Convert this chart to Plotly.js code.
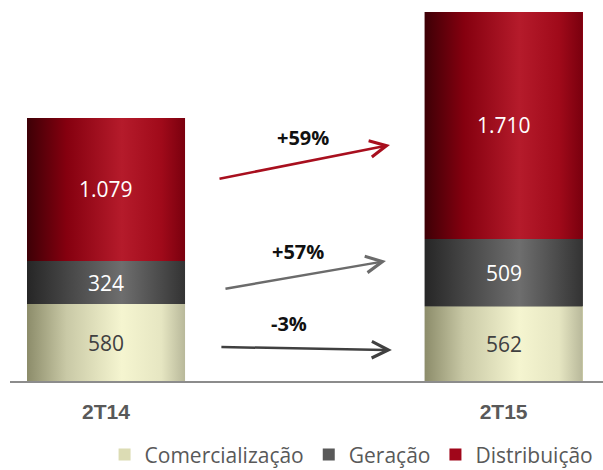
<!DOCTYPE html>
<html>
<head>
<meta charset="utf-8">
<script src="https://cdn.plot.ly/plotly-3.0.1.min.js"></script>
<style>html,body{margin:0;padding:0;background:#fff;}#chart{width:603px;height:470px;}</style>
</head>
<body>
<div id="chart"></div>
<script>
// ---- data ----
var categories = ['2T14', '2T15'];
var seriesNames = ['Comercialização', 'Geração', 'Distribuição'];
var comercializacao = [580, 562];
var geracao = [324, 509];
var distribuicao = [1079, 1710];
var valueLabels = [['580', '562'], ['324', '509'], ['1.079', '1.710']];
var changeLabels = ['+59%', '+57%', '-3%'];

// ---- styles ----
var legendColors = ['#DCDCB4', '#595959', '#A0061A'];
var gradients = [
  [[0, '#8c8c6a'], [0.25, '#c9c9a6'], [0.6, '#f5f5d0'], [0.85, '#e6e6c2'], [1, '#b8b89a']],
  [[0, '#262626'], [0.25, '#454545'], [0.6, '#6e6e6e'], [0.85, '#4a4a4a'], [1, '#333333']],
  [[0, '#3d0006'], [0.25, '#85000f'], [0.6, '#b51b2b'], [0.85, '#a00a1a'], [1, '#7a000e']]
];
var labelColors = ['#404040', '#ffffff', '#ffffff'];
var barWidth = 0.3975;
var font = '"Open Sans", sans-serif';

var series = [comercializacao, geracao, distribuicao];
var traces = [];
series.forEach(function (vals, s) {
  traces.push({
    type: 'bar', x: [0, 1], y: vals, name: seriesNames[s], width: barWidth,
    marker: {color: legendColors[s], line: {width: 0}}, textposition: 'none', hoverinfo: 'skip'
  });
});
var annotations = [];
for (var c = 0; c < categories.length; c++) {
  var base = 0;
  for (var s = 0; s < series.length; s++) {
    var v = series[s][c];
    var x0 = c - barWidth / 2, x1 = c + barWidth / 2;
    traces.push({
      type: 'scatter', mode: 'lines', showlegend: false, hoverinfo: 'skip',
      x: [x0, x1, x1, x0, x0], y: [base, base, base + v, base + v, base],
      fill: 'toself', line: {width: 0, color: 'rgba(0,0,0,0)'},
      fillgradient: {type: 'horizontal', colorscale: gradients[s]}
    });
    annotations.push({
      x: c, y: base + v / 2, xref: 'x', yref: 'y', text: valueLabels[s][c], showarrow: false,
      xanchor: 'center', yanchor: 'middle',
      font: {family: font, size: 21, color: labelColors[s]}
    });
    base += v;
  }
}

var arrowColors = ['#A80F1E', '#6b6b6b', '#404040'];
var arrows = [
  {x: 0.6408, y: 0.6396, ax: -172, ay: 34},
  {x: 0.634, y: 0.3252, ax: -162, ay: 28},
  {x: 0.644, y: 0.084, ax: -172, ay: -3}
];
var labelPos = [[0.494, 0.661], [0.486, 0.35], [0.470, 0.157]];
arrows.forEach(function (a, i) {
  annotations.push({
    xref: 'paper', yref: 'paper', x: a.x, y: a.y, ax: a.ax, ay: a.ay, text: '',
    showarrow: true, arrowhead: 5, arrowsize: 1.3, arrowwidth: 2.5, arrowcolor: arrowColors[i], standoff: 0
  });
  annotations.push({
    xref: 'paper', yref: 'paper', x: labelPos[i][0], y: labelPos[i][1], text: '<b>' + changeLabels[i] + '</b>',
    xanchor: 'center', yanchor: 'middle',
    showarrow: false, font: {family: font, size: 20, color: '#111111'}
  });
});

var layout = {
  width: 603, height: 470,
  margin: {l: 10, r: 0, t: 12, b: 89, autoexpand: false},
  paper_bgcolor: '#ffffff', plot_bgcolor: '#ffffff',
  barmode: 'stack',
  showlegend: true,
  legend: {
    orientation: 'h', x: 0.576, xanchor: 'center', y: -0.2, yanchor: 'middle',
    traceorder: 'normal', font: {family: font, size: 21, color: '#595959'}, itemwidth: 30
  },
  xaxis: {
    range: [-0.2415, 1.25], tickvals: [0, 1], ticktext: categories.map(function (t) { return '<b>' + t + '</b>'; }),
    showgrid: false, zeroline: false, showline: true, linecolor: '#8c8c8c', linewidth: 2,
    ticks: '', ticklabelstandoff: 11, tickfont: {family: 'Liberation Sans, Arial, sans-serif', size: 21, color: '#595959'}
  },
  yaxis: {range: [0, 2781], visible: false, showgrid: false, zeroline: false},
  annotations: annotations
};

Plotly.newPlot('chart', traces, layout, {displayModeBar: false, staticPlot: true});
</script>
</body>
</html>
